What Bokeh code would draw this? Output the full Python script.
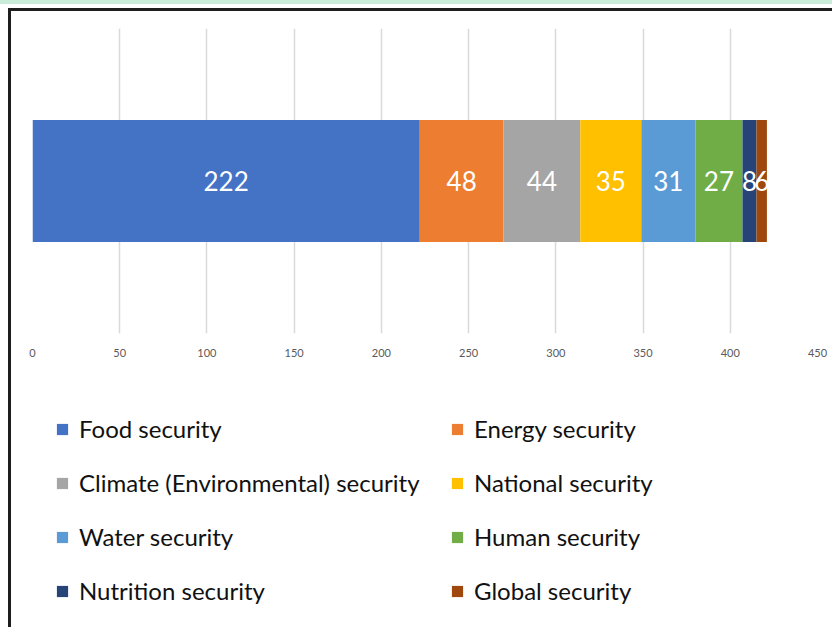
from bokeh.plotting import figure
from bokeh.models import (ColumnDataSource, Legend, LegendItem, FactorRange,
                          Range1d, FixedTicker, Div)
from bokeh.layouts import column, row
from bokeh.core.properties import value
from bokeh.embed import file_html
from bokeh.resources import INLINE
import numpy as np

# Number of items per security topic
topics = ["Food security", "Energy security", "Climate (Environmental) security",
          "National security", "Water security", "Human security",
          "Nutrition security", "Global security"]
counts = [222, 48, 44, 35, 31, 27, 8, 6]
colors = ["#4472C4", "#ED7D31", "#A5A5A5", "#FFC000",
          "#5B9BD5", "#70AD47", "#264478", "#9E480E"]
x_ticks = [0, 50, 100, 150, 200, 250, 300, 350, 400, 450]
category = ["Topics"]

FONT = "Lato"

data = {"cat": category}
for t, c in zip(topics, counts):
    data[t] = [c]
src = ColumnDataSource(data)

# ---- stacked bar ----
p = figure(width=821, height=364, output_backend="svg", toolbar_location=None,
           y_range=FactorRange(factors=category, range_padding=0),
           x_range=Range1d(0, 450),
           min_border_left=21, min_border_right=15, min_border_top=17,
           min_border_bottom=42)
p.outline_line_color = None
p.background_fill_color = "white"
p.border_fill_color = "white"

p.hbar_stack(topics, y="cat", height=0.4, fill_color=colors, line_color=None,
             source=src)

# value labels centred inside each segment
ends = np.cumsum(counts)
starts = ends - np.array(counts)
lab = ColumnDataSource(dict(x=(starts + ends) / 2.0, y=category * len(counts),
                            t=[str(c) for c in counts]))
p.text(x="x", y="y", text="t", source=lab, text_color="white",
       text_font=value(FONT), text_font_size="26px",
       text_align="center", text_baseline="middle")

p.yaxis.visible = False
p.ygrid.grid_line_color = None
p.xgrid.ticker = FixedTicker(ticks=x_ticks)
p.xgrid.grid_line_color = "#d9d9d9"
p.xgrid.grid_line_width = 1.5
p.xaxis.ticker = FixedTicker(ticks=x_ticks)
p.xaxis.axis_line_color = None
p.xaxis.major_tick_line_color = None
p.xaxis.minor_tick_line_color = None
p.xaxis.major_label_text_font = FONT
p.xaxis.major_label_text_font_size = "11px"
p.xaxis.major_label_text_color = "#595959"
p.xaxis.major_label_standoff = 9

# ---- legend panel ----
# shares the stack source with zero-height bars, so only the legend
# swatches appear in this panel
lg = figure(width=821, height=252, output_backend="svg", toolbar_location=None,
            x_axis_type=None, y_axis_type=None, x_range=Range1d(-500, -450),
            y_range=FactorRange(factors=category), min_border=0)
lg.outline_line_color = None
lg.grid.visible = False
lg.background_fill_color = "white"
lg.border_fill_color = "white"

swatches = lg.hbar_stack(topics, y="cat", height=0, fill_color=colors,
                         line_color=None, source=src)

# rows read left to right (Bokeh fills columns first)
order = [0, 2, 4, 6, 1, 3, 5, 7]
legend = Legend(items=[LegendItem(label=topics[i], renderers=[swatches[i]]) for i in order],
                ncols=2, location=(23, 22),
                label_text_font=FONT, label_text_font_size="24px",
                label_text_color="#111111",
                glyph_width=14, glyph_height=14, label_standoff=10,
                label_width=346, spacing=25, padding=0, margin=0,
                border_line_color=None, background_fill_alpha=0)
lg.add_layout(legend, "center")


def block(w, h, color):
    return Div(text="", width=w, height=h, margin=0,
               styles={"background-color": color})


layout = column(
    block(832, 4, "#c8ecd8"),
    block(832, 4, "white"),
    row(block(8, 3, "white"), block(824, 3, "#1e1e1e"), spacing=0),
    row(block(8, 616, "white"), block(3, 616, "#1e1e1e"),
        column(p, lg, spacing=0), spacing=0),
    spacing=0,
)

open("out.html", "w").write(file_html(layout, INLINE))
